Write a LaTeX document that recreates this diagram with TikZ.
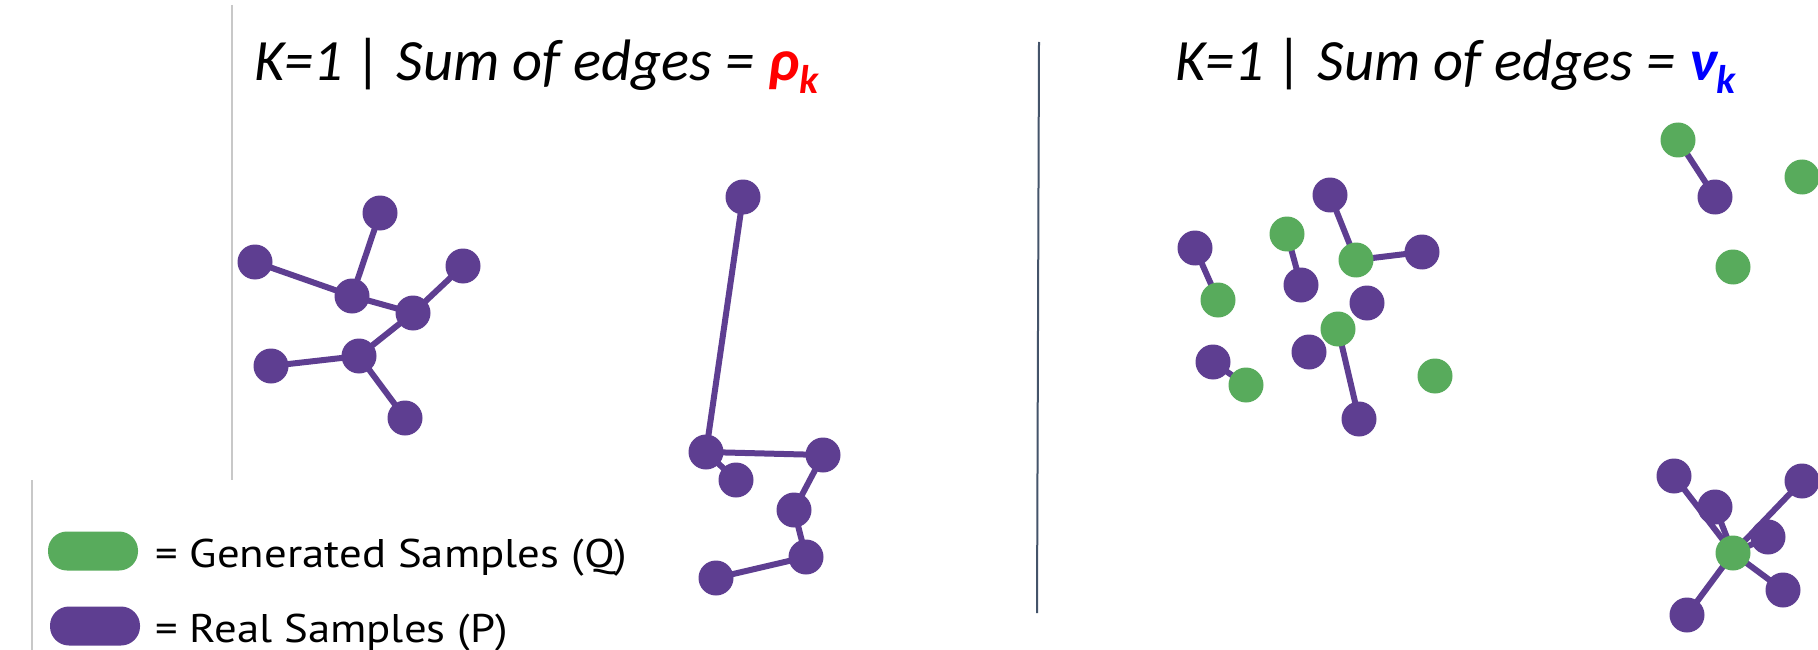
\documentclass[tikz,border=0pt]{standalone}
\usepackage{fontspec}
\usepackage{xcolor}
\usepackage{tikz}
\usetikzlibrary{backgrounds}
\newfontfamily\titlefont{Carlito}
\newfontfamily\keyfont[FakeStretch=1.12]{PT Sans}
\definecolor{realP}{RGB}{94,62,145}
\definecolor{genQ}{RGB}{88,171,92}
\definecolor{divider}{RGB}{68,84,106}
\definecolor{hairline}{RGB}{200,200,200}
\tikzset{dot/.style={circle,inner sep=0pt,minimum size=35pt},
  real/.style={dot,fill=realP},
  gen/.style={dot,fill=genQ},
  link/.style={draw=realP,line width=6pt},
  pill/.style={rounded corners=19pt,minimum width=90pt,minimum height=39pt,inner sep=0pt},
  title/.style={anchor=base west,inner sep=0pt,font=\titlefont\itshape\fontsize{58.5}{60}\selectfont},
  keytext/.style={anchor=base west,inner sep=0pt,font=\keyfont\fontsize{40}{44}\selectfont}}
\newcommand{\realpt}[2]{\node[real] (#1) at (#2) {};}
\newcommand{\genpt}[2]{\node[gen] (#1) at (#2) {};}
\newcommand{\links}[1]{\begin{scope}[on background layer]
  \foreach \a/\b in {#1} \draw[link] (\a.center) -- (\b.center);
  \end{scope}}
\newcommand{\measure}[2]{{\bfseries\color{#1}#2\raisebox{-13pt}{\fontsize{40}{40}\selectfont k}}}

\begin{document}
\begin{tikzpicture}[x=1pt,y=-1pt]
  \useasboundingbox (0,0) rectangle (1818,650);
  \begin{scope}[on background layer]
    \fill[white] (0,0) rectangle (1818,650);
  \end{scope}
  \draw[hairline,line width=1.5pt] (232,5) -- (232,480);
  \draw[hairline,line width=1.2pt] (32,480) -- (32,650);
  \draw[divider,line width=2pt] (1039,42) -- (1037,613);
  \node[title] (titleL) at (254,81) {K=1 | Sum of edges = \measure{red}{ρ}};
  \node[title] (titleR) at (1175,81) {K=1 | Sum of edges = \measure{blue}{ν}};
  \realpt{a1}{380,213}
  \realpt{a2}{255,262}
  \realpt{a3}{352,296}
  \realpt{a4}{463,266}
  \realpt{a5}{413,313}
  \realpt{a6}{359,356}
  \realpt{a7}{271,366}
  \realpt{a8}{405,418}
  \links{a2/a3,a1/a3,a3/a5,a4/a5,a5/a6,a7/a6,a6/a8}
  \realpt{b1}{743,197}
  \realpt{b2}{706,452}
  \realpt{b3}{823,455}
  \realpt{b4}{736,480}
  \realpt{b5}{794,510}
  \realpt{b6}{806,557}
  \realpt{b7}{716,578}
  \links{b1/b2,b2/b3,b2/b4,b3/b5,b5/b6,b6/b7}
  \realpt{p1}{1195,248}
  \realpt{p2}{1330,195}
  \realpt{p3}{1301,285}
  \realpt{p4}{1422,252}
  \realpt{p5}{1367,303}
  \realpt{p6}{1359,419}
  \realpt{p7}{1309,352}
  \realpt{p8}{1213,362}
  \realpt{p9}{1715,197}
  \realpt{p10}{1674,476}
  \realpt{p11}{1715,507}
  \realpt{p12}{1802,481}
  \realpt{p13}{1768,537}
  \realpt{p14}{1783,590}
  \realpt{p15}{1687,615}
  \genpt{g1}{1218,300}
  \genpt{g2}{1287,234}
  \genpt{g3}{1356,260}
  \genpt{g4}{1338,329}
  \genpt{g5}{1246,385}
  \genpt{g6}{1435,376}
  \genpt{g7}{1678,140}
  \genpt{g8}{1802,177}
  \genpt{g9}{1733,267}
  \genpt{g10}{1733,553}
  \links{p1/g1,g2/p3,p2/g3,g3/p4,g4/p6,p8/g5,g7/p9}
  \links{p10/g10,p11/g10,p12/g10,p13/g10,p14/g10,p15/g10}
  \node[pill,fill=genQ] (keyQ) at (93,551) {};
  \node[pill,fill=realP] (keyP) at (95,626) {};
  \node[keytext] (textQ) at (155,567) {= Generated Samples (Q)};
  \node[keytext] (textP) at (155,642) {= Real Samples (P)};
\end{tikzpicture}
\end{document}
